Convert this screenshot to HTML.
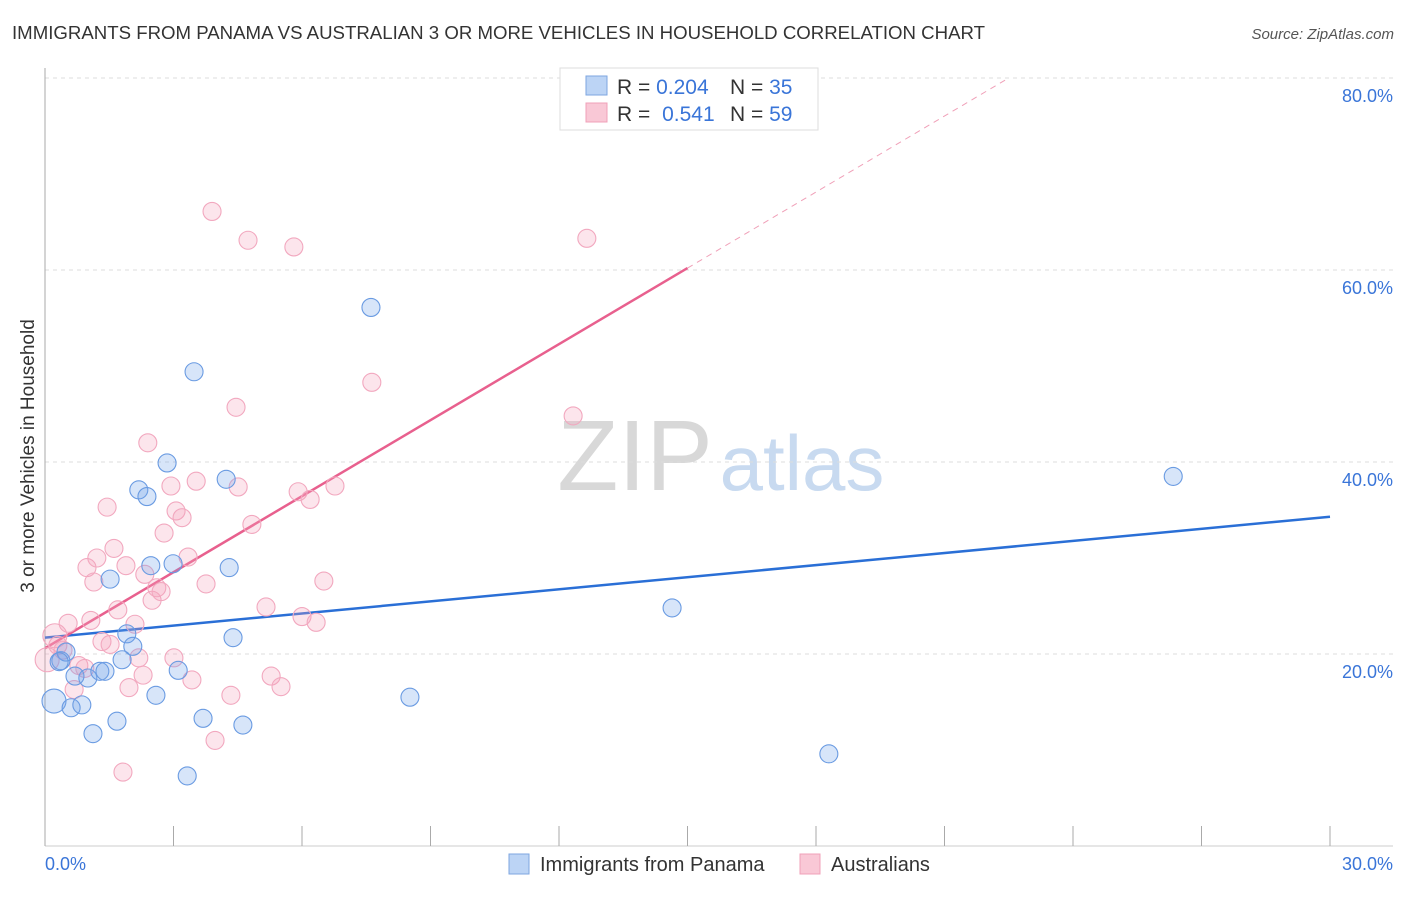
<!DOCTYPE html>
<html><head><meta charset="utf-8"><style>
body{margin:0;background:#fff;font-family:"Liberation Sans",sans-serif;}
svg text{font-family:"Liberation Sans",sans-serif;}
</style></head><body>
<svg id="chart" width="1406" height="892" xmlns="http://www.w3.org/2000/svg">
<text x="12" y="39" font-size="18" fill="#333" textLength="973" lengthAdjust="spacingAndGlyphs">IMMIGRANTS FROM PANAMA VS AUSTRALIAN 3 OR MORE VEHICLES IN HOUSEHOLD CORRELATION CHART</text>
<text x="1394" y="39" font-size="15" fill="#555" font-style="italic" text-anchor="end">Source: ZipAtlas.com</text>
<text x="34" y="456" font-size="19" fill="#333" text-anchor="middle" transform="rotate(-90 34 456)">3 or more Vehicles in Household</text>
<g>
<text x="635" y="490" font-size="100" font-family="Liberation Serif,serif" fill="#d8d8d8" text-anchor="middle">ZIP</text>
<text x="802" y="490" font-size="78" fill="#c8daf0" text-anchor="middle">atlas</text>
</g>
<g id="grid"></g><g id="axes"></g><g id="trends"></g><g id="points"></g>
<g>
<rect x="560" y="68" width="258" height="62" fill="#fff" stroke="#ddd"/>
<rect x="586" y="76" width="21" height="19" fill="#bcd4f5" stroke="#7ea6e0"/>
<rect x="586" y="103" width="21" height="19" fill="#f9c8d6" stroke="#f0a0b8"/>
<text x="617" y="94" font-size="21" fill="#333">R = <tspan fill="#3a75d8">0.204</tspan></text>
<text x="730" y="94" font-size="21" fill="#333">N = <tspan fill="#3a75d8">35</tspan></text>
<text x="617" y="121" font-size="21" fill="#333">R = <tspan fill="#3a75d8" dx="6">0.541</tspan></text>
<text x="730" y="121" font-size="21" fill="#333">N = <tspan fill="#3a75d8">59</tspan></text>
</g>
<g>
<rect x="509" y="854" width="20" height="20" fill="#bcd4f5" stroke="#7ea6e0"/>
<text x="540" y="871" font-size="20" fill="#333">Immigrants from Panama</text>
<rect x="800" y="854" width="20" height="20" fill="#f9c8d6" stroke="#f0a0b8"/>
<text x="831" y="871" font-size="20" fill="#333">Australians</text>
</g>
</svg>
<script>
const xTicks=[0,3,6,9,12,15,18,21,24,27,30];
const yTicks=[20,40,60,80];
const yTickLabels=["20.0%","40.0%","60.0%","80.0%"];
const panamaX=[0.21,0.37,0.49,0.61,0.86,1.0,1.12,1.28,1.4,1.52,1.68,1.8,1.91,2.05,2.19,2.38,2.47,2.59,2.85,2.99,3.11,3.32,3.48,3.69,4.23,4.3,4.39,4.62,7.61,8.52,14.64,18.3,26.34,0.33,0.7];
const panamaY=[15.1,19.3,20.2,14.4,14.7,17.5,11.7,18.2,18.2,27.8,13.0,19.4,22.1,20.8,37.1,36.4,29.2,15.7,39.9,29.4,18.3,7.3,49.4,13.3,38.2,29.0,21.7,12.6,56.1,15.5,24.8,9.6,38.5,19.2,17.7];
const ausX=[0.05,0.23,0.3,0.42,0.54,0.68,0.79,0.93,0.98,1.07,1.14,1.21,1.33,1.45,1.52,1.61,1.7,1.82,1.89,1.96,2.1,2.19,2.29,2.33,2.4,2.5,2.61,2.71,2.78,2.94,3.01,3.06,3.2,3.34,3.43,3.53,3.76,3.9,3.97,4.34,4.46,4.51,4.74,4.83,5.16,5.28,5.51,5.81,5.91,6.0,6.19,6.33,6.51,6.77,7.63,12.33,12.65];
const ausY=[19.4,21.9,20.9,20.4,23.2,16.3,18.8,18.5,29.0,23.5,27.5,30.0,21.3,35.3,21.0,31.0,24.6,7.7,29.2,16.5,23.1,19.6,17.8,28.3,42.0,25.6,26.9,26.5,32.6,37.5,19.6,34.9,34.2,30.1,17.3,38.0,27.3,66.1,11.0,15.7,45.7,37.4,63.1,33.5,24.9,17.7,16.6,62.4,36.9,23.9,36.1,23.3,27.6,37.5,48.3,44.8,63.3];
const trendIntercepts=[21.7,20.6];
const trendSlopes=[0.42,2.64];
const NS="http://www.w3.org/2000/svg";
const sx=v=>45+v/30*1285;
const sy=v=>846-v*9.6;
function mk(tag,attrs,parent){const e=document.createElementNS(NS,tag);for(const k in attrs)e.setAttribute(k,attrs[k]);document.getElementById(parent).appendChild(e);return e;}
yTicks.forEach((t,i)=>{
 const g=mk('line',{x1:45,x2:1393,y1:sy(t),y2:sy(t),stroke:'#ddd','stroke-dasharray':'4,4'},'grid');
 
 
 const l=mk('text',{x:1393,y:sy(t)+24,'font-size':18,fill:'#3a75d8','text-anchor':'end'},'grid');
 l.textContent=yTickLabels[i];
 
 
});
const ya=mk('line',{x1:45,x2:45,y1:68,y2:846,stroke:'#aaa'},'axes');


const xa=mk('line',{x1:45,x2:1393,y1:846,y2:846,stroke:'#ccc'},'axes');


xTicks.forEach(t=>{
 const tk=mk('line',{x1:sx(t),x2:sx(t),y1:826,y2:846,stroke:'#aaa'},'axes');
 
 
});
const xl0=mk('text',{x:45,y:870,'font-size':18,fill:'#3a75d8'},'axes');xl0.textContent='0.0%';


const xl1=mk('text',{x:1393,y:870,'font-size':18,fill:'#3a75d8','text-anchor':'end'},'axes');xl1.textContent='30.0%';


function pts(xs,ys,fill,stroke,name){xs.forEach((x,i)=>{
 const c=mk('circle',{cx:sx(x),cy:sy(ys[i]),r:(x<0.3?12:9),fill:fill,stroke:stroke,'stroke-width':1.1},'points');
 
 
});}
pts(ausX,ausY,'rgba(244,160,188,0.28)','#f2a8bf','australians-point');
pts(panamaX,panamaY,'rgba(110,160,235,0.28)','#6a9be2','panama-point');
const b=mk('line',{x1:sx(0),y1:sy(trendIntercepts[0]),x2:sx(30),y2:sy(trendIntercepts[0]+trendSlopes[0]*30),stroke:'#2a6fd6','stroke-width':2.5},'trends');


const xe=15.0, xd=(80-trendIntercepts[1])/trendSlopes[1];
const p=mk('line',{x1:sx(0),y1:sy(trendIntercepts[1]),x2:sx(xe),y2:sy(trendIntercepts[1]+trendSlopes[1]*xe),stroke:'#e8608e','stroke-width':2.5},'trends');


const pd=mk('line',{x1:sx(xe),y1:sy(trendIntercepts[1]+trendSlopes[1]*xe),x2:sx(xd),y2:sy(80),stroke:'#f0a0b8','stroke-width':1,'stroke-dasharray':'6,5'},'trends');


</script>
</body></html>
